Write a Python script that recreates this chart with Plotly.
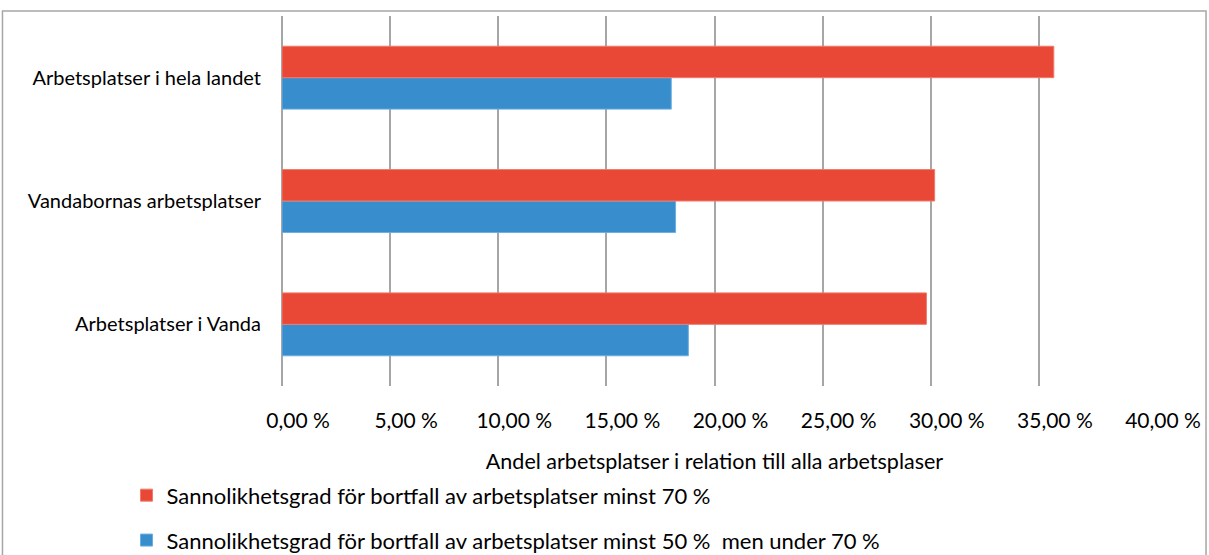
import plotly.graph_objects as go

categories = ["Arbetsplatser i Vanda", "Vandabornas arbetsplatser", "Arbetsplatser i hela landet"]
red_values = [29.80, 30.18, 35.69]
blue_values = [18.79, 18.20, 18.00]
red_name = "Sannolikhetsgrad för bortfall av arbetsplatser minst 70 %"
blue_name = "Sannolikhetsgrad för bortfall av arbetsplatser minst 50 %  men under 70 %"
tick_vals = [0, 5, 10, 15, 20, 25, 30, 35, 40]
tick_text = ["0,00 %", "5,00 %", "10,00 %", "15,00 %", "20,00 %", "25,00 %", "30,00 %", "35,00 %", "40,00 %"]

FONT = "Lato"
W, H = 1209, 555
L, R, T, B = 282.4, 62, 16, 168.5
pw, ph = W - L - R, H - T - B

def px2x(p):
    return (p - L) / pw

def py2y(p):
    return 1 - (p - T) / ph

fig = go.Figure()
fig.add_trace(go.Bar(
    y=categories, x=blue_values, orientation="h", name=blue_name,
    marker=dict(color="#388dcd", line=dict(color="#6aaee0", width=1)),
    legend="legend2", showlegend=True,
))
fig.add_trace(go.Bar(
    y=categories, x=red_values, orientation="h", name=red_name,
    marker=dict(color="#e84835", line=dict(color="#f07a6b", width=1)),
    legend="legend", showlegend=True,
))

fig.update_layout(
    width=W, height=H,
    margin=dict(l=L, r=R, t=T, b=B, pad=0, autoexpand=False),
    paper_bgcolor="white", plot_bgcolor="white",
    barmode="group", bargap=0.49, bargroupgap=0,
    showlegend=True,
    font=dict(family=FONT, size=20, color="#000000"),
    xaxis=dict(
        range=[0, 40], tickvals=tick_vals, ticktext=tick_text,
        showgrid=True, gridcolor="#a6a6a6", gridwidth=1.5,
        zeroline=True, zerolinecolor="#a6a6a6", zerolinewidth=1.5,
        showline=False, ticks="", ticklabelshift=16, ticklabelstandoff=20,
        tickfont=dict(family=FONT, size=21),
        title=dict(text="Andel arbetsplatser i relation till alla arbetsplaser",
                   font=dict(family=FONT, size=21.5), standoff=22),
        fixedrange=True,
    ),
    yaxis=dict(
        showgrid=False, showline=False, ticks="", ticklabelstandoff=20,
        tickfont=dict(family=FONT, size=20), fixedrange=True,
    ),
    legend=dict(
        x=px2x(127), y=py2y(496), xanchor="left", yanchor="middle",
        bgcolor="rgba(0,0,0,0)", font=dict(family=FONT, size=22),
    ),
    legend2=dict(
        x=px2x(127), y=py2y(541), xanchor="left", yanchor="middle",
        bgcolor="rgba(0,0,0,0)", font=dict(family=FONT, size=22),
    ),
    shapes=[dict(
        type="rect", xref="paper", yref="paper",
        x0=px2x(3), x1=px2x(1206), y0=py2y(600), y1=py2y(11),
        line=dict(color="#a6a6a6", width=1.5), fillcolor="rgba(0,0,0,0)", layer="below",
    )],
)

fig.write_html("out.html")
